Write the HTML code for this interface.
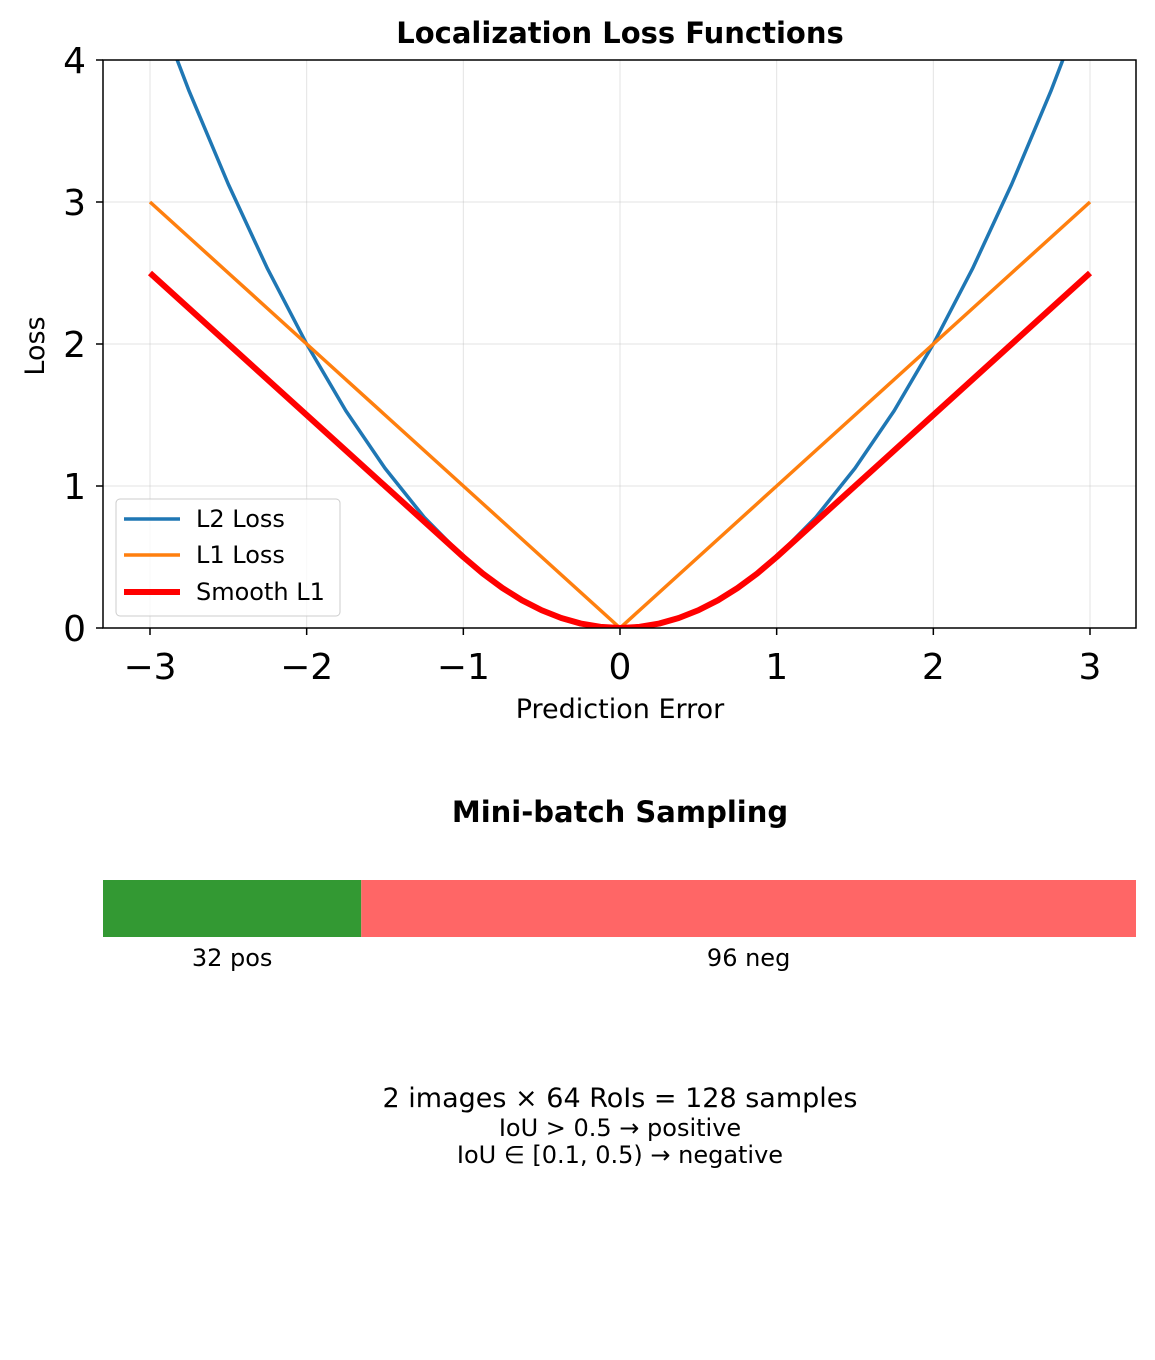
<!DOCTYPE html>
<html><head><meta charset="utf-8"><style>
body{margin:0;background:#fff;}
svg text{font-family:"DejaVu Sans","Liberation Sans",sans-serif;}
</style></head><body>
<svg width="1155" height="1355" xmlns="http://www.w3.org/2000/svg">
<defs><clipPath id="pc"><rect x="103" y="60" width="1033" height="568"/></clipPath></defs>
<text x="620" y="43" text-anchor="middle" font-size="29" font-weight="bold">Localization Loss Functions</text>
<g id="grid"></g>
<g id="series" clip-path="url(#pc)"></g>
<rect x="103" y="60" width="1033" height="568" fill="none" stroke="#000" stroke-width="1.5"/>
<g id="ticks"></g>
<text x="620" y="718" text-anchor="middle" font-size="27">Prediction Error</text>
<text x="0" y="0" transform="translate(44,346) rotate(-90)" text-anchor="middle" font-size="27">Loss</text>
<g>
<rect x="116" y="499" width="224" height="117" rx="4" fill="#fff" fill-opacity="0.8" stroke="#ccc"/>
<line x1="124" x2="180" y1="519" y2="519" stroke="#1f77b4" stroke-width="3.5"/>
<text x="196" y="527" font-size="24">L2 Loss</text>
<line x1="124" x2="180" y1="555" y2="555" stroke="#ff7f0e" stroke-width="3.5"/>
<text x="196" y="563" font-size="24">L1 Loss</text>
<line x1="124" x2="180" y1="592" y2="592" stroke="#ff0000" stroke-width="6"/>
<text x="196" y="600" font-size="24">Smooth L1</text>
</g>
<text x="620" y="822" text-anchor="middle" font-size="29" font-weight="bold">Mini-batch Sampling</text>
<g id="bar"></g>
<text x="620" y="1107" text-anchor="middle" font-size="27">2 images × 64 RoIs = 128 samples</text>
<text x="620" y="1136" text-anchor="middle" font-size="24">IoU &gt; 0.5 → positive</text>
<text x="620" y="1163" text-anchor="middle" font-size="24">IoU ∈ [0.1, 0.5) → negative</text>
</svg>
<script>
const xs=[-3,-2.75,-2.5,-2.25,-2,-1.75,-1.5,-1.25,-1,-0.875,-0.75,-0.625,-0.5,-0.375,-0.25,-0.125,0,0.125,0.25,0.375,0.5,0.625,0.75,0.875,1,1.25,1.5,1.75,2,2.25,2.5,2.75,3];
const l2=[4.5,3.78,3.125,2.53,2,1.53,1.125,0.78,0.5,0.383,0.28125,0.195,0.125,0.0703,0.03125,0.0078,0,0.0078,0.03125,0.0703,0.125,0.195,0.28125,0.383,0.5,0.78,1.125,1.53,2,2.53,3.125,3.78,4.5];
const l1=[3,2.75,2.5,2.25,2,1.75,1.5,1.25,1,0.875,0.75,0.625,0.5,0.375,0.25,0.125,0,0.125,0.25,0.375,0.5,0.625,0.75,0.875,1,1.25,1.5,1.75,2,2.25,2.5,2.75,3];
const smooth=[2.5,2.25,2,1.75,1.5,1.25,1,0.75,0.5,0.3828,0.28125,0.1953,0.125,0.0703,0.03125,0.0078,0,0.0078,0.03125,0.0703,0.125,0.1953,0.28125,0.3828,0.5,0.75,1,1.25,1.5,1.75,2,2.25,2.5];
const xTicks=[-3,-2,-1,0,1,2,3];
const xTickLabels=["−3","−2","−1","0","1","2","3"];
const yTicks=[0,1,2,3,4];
const counts=[32,96];
const countLabels=["32 pos","96 neg"];
const NS="http://www.w3.org/2000/svg";
const X=v=>620+v*156.667, Y=v=>628-v*142;
function mk(t,a,p){const e=document.createElementNS(NS,t);for(const k in a)e.setAttribute(k,a[k]);p.appendChild(e);return e;}
const grid=document.getElementById('grid'),ticks=document.getElementById('ticks'),ser=document.getElementById('series'),bar=document.getElementById('bar');
xTicks.forEach((v,i)=>{
 const g=mk('line',{x1:X(v),x2:X(v),y1:60,y2:628,stroke:'#b0b0b0','stroke-opacity':0.35,'stroke-width':1},grid);
 
 const t=mk('line',{x1:X(v),x2:X(v),y1:628,y2:635,stroke:'#000','stroke-width':1.5},ticks);
 
 const l=mk('text',{x:X(v),y:679,'text-anchor':'middle','font-size':36},ticks);l.textContent=xTickLabels[i];
 
});
yTicks.forEach(v=>{
 const g=mk('line',{x1:103,x2:1136,y1:Y(v),y2:Y(v),stroke:'#b0b0b0','stroke-opacity':0.35,'stroke-width':1},grid);
 
 const t=mk('line',{x1:96,x2:103,y1:Y(v),y2:Y(v),stroke:'#000','stroke-width':1.5},ticks);
 
 const l=mk('text',{x:86,y:Y(v)+13,'text-anchor':'end','font-size':36},ticks);l.textContent=String(v);
 
});
function line(ys,color,w,name){
 const p=mk('polyline',{points:xs.map((x,i)=>X(x)+','+Y(ys[i])).join(' '),fill:'none',stroke:color,'stroke-width':w,'stroke-linejoin':'round'},ser);
 
}
line(l2,'#1f77b4',3.5,'l2-line');
line(l1,'#ff7f0e',3.5,'l1-line');
line(smooth,'#ff0000',6,'smooth-l1-line');
const total=counts.reduce((a,b)=>a+b,0),colors=['#339933','#ff6666'];
let acc=0;
counts.forEach((c,i)=>{
 const x0=103+acc/total*1033,w=c/total*1033;acc+=c;
 const r=mk('rect',{x:x0,y:880,width:w,height:57,fill:colors[i]},bar);
 
 const t=mk('text',{x:x0+w/2,y:966,'text-anchor':'middle','font-size':24},bar);t.textContent=countLabels[i];
 
});
</script>
</body></html>
